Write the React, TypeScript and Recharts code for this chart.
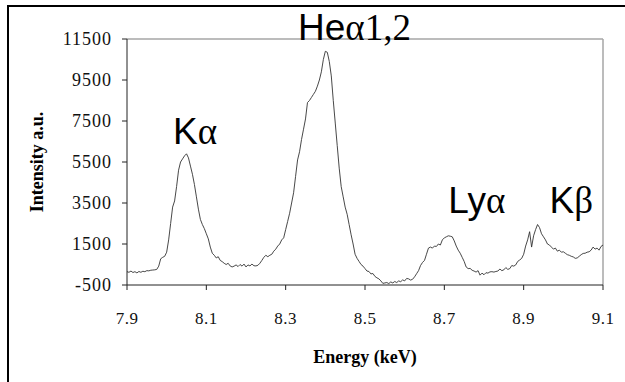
import React from 'react';
import { LineChart, Line, XAxis, YAxis, ReferenceLine, ReferenceDot } from 'recharts';

const energy = [
  7.900, 7.905, 7.910, 7.915, 7.920, 7.925, 7.930, 7.935, 7.940, 7.945,
  7.950, 7.955, 7.960, 7.965, 7.970, 7.975, 7.980, 7.985, 7.990, 7.995,
  8.000, 8.005, 8.010, 8.015, 8.020, 8.025, 8.030, 8.035, 8.040, 8.045,
  8.050, 8.055, 8.060, 8.065, 8.070, 8.075, 8.080, 8.085, 8.090, 8.095,
  8.100, 8.105, 8.110, 8.115, 8.120, 8.125, 8.130, 8.135, 8.140, 8.145,
  8.150, 8.155, 8.160, 8.165, 8.170, 8.175, 8.180, 8.185, 8.190, 8.195,
  8.200, 8.205, 8.210, 8.215, 8.220, 8.225, 8.230, 8.235, 8.240, 8.245,
  8.250, 8.255, 8.260, 8.265, 8.270, 8.275, 8.280, 8.285, 8.290, 8.295,
  8.300, 8.305, 8.310, 8.315, 8.320, 8.325, 8.330, 8.335, 8.340, 8.345,
  8.350, 8.355, 8.360, 8.365, 8.370, 8.375, 8.380, 8.385, 8.390, 8.395,
  8.400, 8.405, 8.410, 8.415, 8.420, 8.425, 8.430, 8.435, 8.440, 8.445,
  8.450, 8.455, 8.460, 8.465, 8.470, 8.475, 8.480, 8.485, 8.490, 8.495,
  8.500, 8.505, 8.510, 8.515, 8.520, 8.525, 8.530, 8.535, 8.540, 8.545,
  8.550, 8.555, 8.560, 8.565, 8.570, 8.575, 8.580, 8.585, 8.590, 8.595,
  8.600, 8.605, 8.610, 8.615, 8.620, 8.625, 8.630, 8.635, 8.640, 8.645,
  8.650, 8.655, 8.660, 8.665, 8.670, 8.675, 8.680, 8.685, 8.690, 8.695,
  8.700, 8.705, 8.710, 8.715, 8.720, 8.725, 8.730, 8.735, 8.740, 8.745,
  8.750, 8.755, 8.760, 8.765, 8.770, 8.775, 8.780, 8.785, 8.790, 8.795,
  8.800, 8.805, 8.810, 8.815, 8.820, 8.825, 8.830, 8.835, 8.840, 8.845,
  8.850, 8.855, 8.860, 8.865, 8.870, 8.875, 8.880, 8.885, 8.890, 8.895,
  8.900, 8.905, 8.910, 8.915, 8.920, 8.925, 8.930, 8.935, 8.940, 8.945,
  8.950, 8.955, 8.960, 8.965, 8.970, 8.975, 8.980, 8.985, 8.990, 8.995,
  9.000, 9.005, 9.010, 9.015, 9.020, 9.025, 9.030, 9.035, 9.040, 9.045,
  9.050, 9.055, 9.060, 9.065, 9.070, 9.075, 9.080, 9.085, 9.090, 9.095,
  9.100,
];

const intensity = [
  150, 120, 180, 110, 150, 90, 160, 120, 170, 150,
  200, 190, 220, 230, 240, 260, 420, 780, 850, 900,
  1100, 1700, 2500, 3300, 3600, 4300, 5100, 5500, 5650, 5800,
  5900, 5700, 5300, 4900, 4400, 3800, 3200, 2700, 2450, 2250,
  2000, 1750, 1350, 1050, 950, 820, 880, 700, 640, 560,
  500, 560, 430, 380, 420, 480, 400, 500, 420, 520,
  380, 480, 430, 520, 440, 430, 460, 560, 700, 850,
  950, 880, 950, 1000, 1150, 1250, 1400, 1500, 1700, 1800,
  2200, 2600, 3000, 3500, 4000, 4800, 5600, 6000, 6600, 7100,
  7600, 8400, 8500, 8650, 8800, 8950, 9200, 9500, 9900, 10500,
  10900, 10850, 10400, 9700, 8500, 7400, 6300, 5200, 4300, 3800,
  3300, 2950, 2450, 1950, 1500, 1000, 800, 650, 500, 420,
  300, 180, 160, 40, 60, -80, -150, -200, -300, -420,
  -400, -380, -430, -350, -400, -330, -380, -300, -340, -250,
  -300, -180, -200, -260, -220, -100, 50, 200, 450, 600,
  700, 1000, 1300, 1350, 1300, 1400, 1380, 1500, 1450, 1700,
  1800, 1850, 1900, 1880, 1850, 1650, 1400, 1200, 1050, 850,
  650, 380, 300, 310, 220, 180, 130, 200, -20, 80,
  0, 100, 80, 140, 150, 130, 160, 180, 280, 200,
  240, 350, 260, 300, 450, 420, 480, 650, 720, 800,
  1000, 1400, 1700, 2100, 1350, 1900, 2200, 2450, 2300, 2000,
  1850, 1700, 1500, 1450, 1350, 1250, 1300, 1150, 1200, 1100,
  1120, 1050, 980, 950, 900, 870, 800, 820, 900, 980,
  1040, 1050, 1100, 1120, 1200, 1350, 1250, 1300, 1200, 1380,
  1450,
];

const xTicks = [7.9, 8.1, 8.3, 8.5, 8.7, 8.9, 9.1];
const yTicks = [-500, 1500, 3500, 5500, 7500, 9500, 11500];

const peakLatin = ['K', 'He', 'Ly', 'K'];
const peakGreek = ['α', 'α1,2', 'α', 'β'];
const peakLabelE = [8.016, 8.331, 8.710, 8.965];
const peakLabelI = [6388, 11427, 3020, 3020];

const data = energy.map((e, i) => ({ e, v: intensity[i] }));

const SERIF = '"Liberation Serif", "Times New Roman", serif';
const SANS = '"Liberation Sans", Arial, sans-serif';

const YLabel = (props: any) => {
  const vb = props.viewBox || { x: 0, y: 39, width: 127, height: 246 };
  const x = vb.x + 43;
  const y = vb.y + vb.height / 2;
  return (
    <text x={x} y={y} transform={`rotate(-90, ${x}, ${y})`} textAnchor="middle"
      style={{ fontFamily: SERIF, fontWeight: 'bold', fontSize: 18 }} fill="#000">
      Intensity a.u.
    </text>
  );
};

const XLabel = (props: any) => {
  const vb = props.viewBox || { x: 127, y: 285, width: 476, height: 97 };
  const x = vb.x + vb.width / 2;
  const y = vb.y + 78;
  return (
    <text x={x} y={y} textAnchor="middle" style={{ fontFamily: SERIF, fontWeight: 'bold', fontSize: 18 }} fill="#000">
      Energy (keV)
    </text>
  );
};

const XTick = (props: any) => {
  const { x, y, payload } = props;
  return (
    <text x={x} y={y} dy={12} textAnchor="middle" fill="#111"
      style={{ fontFamily: SERIF, fontSize: 17, letterSpacing: 0.5 }}>
      {Number(payload.value).toFixed(1)}
    </text>
  );
};

const YTick = (props: any) => {
  const { x, y, payload } = props;
  return (
    <text x={x} y={y} dy={6} textAnchor="end" fill="#111"
      style={{ fontFamily: SERIF, fontSize: 18, letterSpacing: 1 }}>
      {payload.value}
    </text>
  );
};

const makePeakShape = (i: number) => (props: any) => (
  <text x={props.cx} y={props.cy} textAnchor="start" fill="#000" style={{ fontSize: 37 }}>
    <tspan style={{ fontFamily: SANS }}>{peakLatin[i]}</tspan>
    <tspan style={{ fontFamily: SERIF }}>{peakGreek[i]}</tspan>
  </text>
);

export default function App() {
  return (
    <div style={{ position: 'absolute', left: 0, top: 0, width: 625, height: 382, overflow: 'hidden', background: '#fff' }}>
      <div style={{ position: 'absolute', left: 7, top: 5, width: 700, height: 500, borderLeft: '2px solid #000', borderTop: '2px solid #000' }} />
      <div style={{ position: 'absolute', left: 0, top: 0 }}>
        <LineChart width={625} height={382} data={data} margin={{ top: 39, right: 22, bottom: 0, left: 0 }}>
          <XAxis
            dataKey="e"
            type="number"
            domain={[7.9, 9.1]}
            ticks={xTicks}
            allowDataOverflow
            height={97}
            stroke="#222"
            tickSize={5}
            tickMargin={22}
            tick={<XTick />}
            label={<XLabel />}
          />
          <YAxis
            type="number"
            domain={[-500, 11500]}
            ticks={yTicks}
            allowDataOverflow
            width={127}
            stroke="#222"
            tickSize={5}
            tickMargin={10}
            tick={<YTick />}
            label={<YLabel />}
          />
          <ReferenceLine y={11500} stroke="#a6a6a6" strokeWidth={1.5} />
          <ReferenceLine x={9.1} stroke="#a6a6a6" strokeWidth={1.5} />
          <Line
            type="linear"
            dataKey="v"
            stroke="#333"
            strokeWidth={0.9}
            dot={false}
            isAnimationActive={false}
          />
          {peakLatin.map((_, i) => (
            <ReferenceDot
              key={i}
              x={peakLabelE[i]}
              y={peakLabelI[i]}
              r={0}
              ifOverflow="visible"
              shape={makePeakShape(i)}
            />
          ))}
        </LineChart>
      </div>
    </div>
  );
}
